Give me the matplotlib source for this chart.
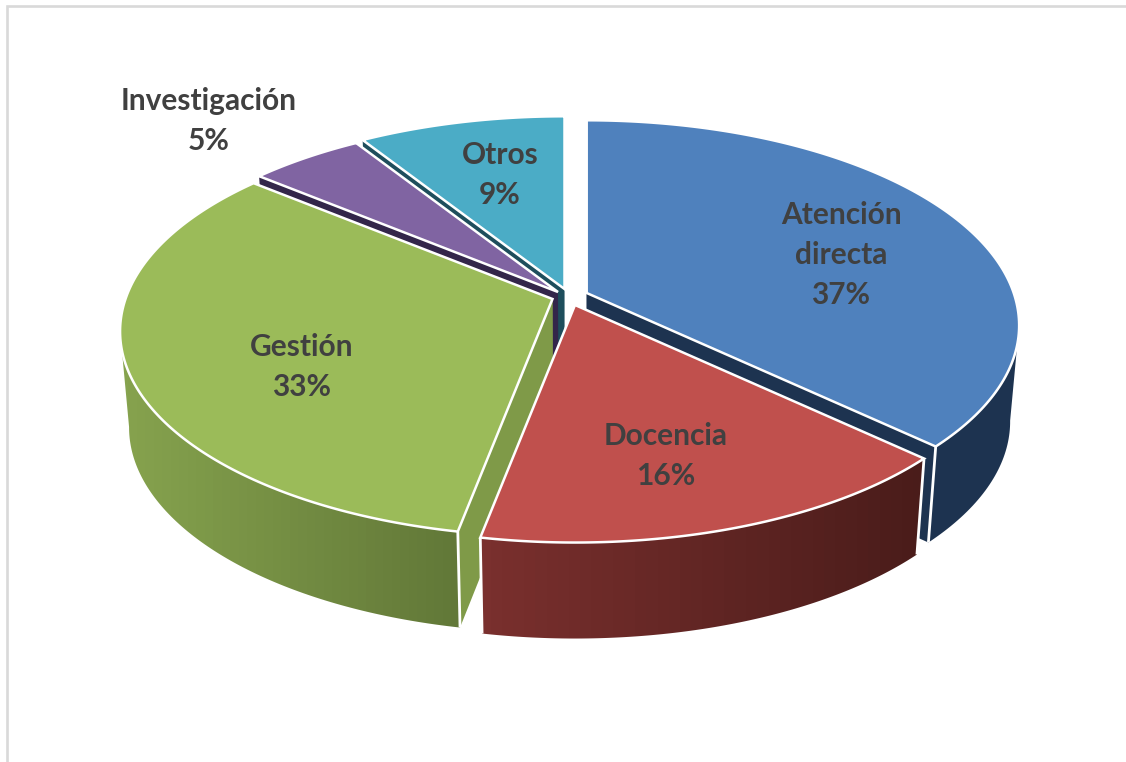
"""Exploded 3D-looking pie of time shares, drawn as projected polygons."""
import numpy as np
import matplotlib
matplotlib.use("Agg")
import matplotlib.pyplot as plt
from matplotlib.colors import LinearSegmentedColormap
from matplotlib.patches import Polygon

categories = ["Atención\ndirecta", "Docencia", "Gestión", "Investigación", "Otros"]
shares = [37, 16, 33, 5, 9]

top_colors = ["#4F81BD", "#C0504D", "#9BBB59", "#8064A2", "#4BACC6"]
wall_colors = ["#1D3350", "#792E2D", "#7F9A48", "#33264A", "#1E4E5C"]
side_left = ["#1D3350", "#7A302E", "#86A34E", "#4A3A66", "#2A6474"]
side_right = ["#1D3350", "#4A1C1A", "#627838", "#33264A", "#1E4E5C"]

# where each slice's tip sits after the explosion, in pixels
tips = [(586.7, 293), (575, 305), (552.5, 299), (558, 292), (564.5, 289)]
label_pos = [(841, 255), (666, 456), (302, 367), (209, 121), (500, 175)]

RX, RY, PERSP = 427, 200, 0.158
DEPTH, SHRINK, MID_X = 96, 0.98, 570
TEXT = "#404040"


def on_top(tip, theta, r=1.0):
    d = 1 + PERSP * r * np.cos(theta)
    return tip[0] + RX * r * np.sin(theta) / d, tip[1] - RY * r * np.cos(theta) / d


def below(p):
    return MID_X + (p[0] - MID_X) * SHRINK, p[1] + DEPTH


def draw_slice(ax, i, start, end):
    tip = tips[i]
    thetas = np.linspace(start, end, 160)
    rim = [on_top(tip, t) for t in thetas]

    # cut faces
    for t in (start, end):
        p = on_top(tip, t)
        ax.add_patch(Polygon([tip, p, below(p), below(tip)], closed=True,
                             fc=wall_colors[i], ec="none", zorder=1))

    # outer wall with a left to right gradient, only the part below the widest point
    rim_x = [p[0] for p in rim]
    k1 = int(np.argmax(rim_x)) if start < np.pi else 0
    k2 = int(np.argmin(rim_x)) + 1 if end > np.pi else len(rim)
    front = rim[k1:k2]
    if len(front) > 1:
        wall = front + [below(p) for p in front[::-1]]
        xs = [p[0] for p in wall]
        ys = [p[1] for p in wall]
        cmap = LinearSegmentedColormap.from_list("side", [side_left[i], side_right[i]])
        im = ax.imshow(np.linspace(0, 1, 40).reshape(1, -1), cmap=cmap, aspect="auto",
                       extent=(min(xs), max(xs), max(ys), min(ys)),
                       interpolation="nearest", zorder=1)
        im.set_clip_path(Polygon(wall, closed=True, transform=ax.transData))

    # white seams on the wall ends that face the viewer
    for t in (start, end):
        if np.cos(t) < 0:
            p = on_top(tip, t)
            q = below(p)
            ax.plot([p[0], q[0]], [p[1], q[1]], color="white", lw=2, zorder=1,
                    solid_capstyle="butt")

    ax.add_patch(Polygon([tip] + rim, closed=True, fc=top_colors[i], ec="white",
                         lw=1.8, joinstyle="miter", zorder=1))


fig = plt.figure(figsize=(11.26, 7.62), dpi=100, facecolor="white")
ax = fig.add_axes([0, 0, 1, 1])

# frame, only top and left are inside the crop
ax.plot([7, 7, 1126], [762, 6, 6], color="#D9D9D9", lw=1.9, solid_joinstyle="miter")

edges = np.cumsum([0] + shares) / sum(shares) * 2 * np.pi

# back to front so nearer slices cover the farther ones
for i in [4, 3, 0, 2, 1]:
    draw_slice(ax, i, edges[i], edges[i + 1])

ax.set_xlim(0, 1126)
ax.set_ylim(762, 0)
ax.axis("off")

for name, val, (x, y) in zip(categories, shares, label_pos):
    ax.text(x, y, f"{name}\n{val}%", ha="center", va="center", color=TEXT,
            family=["Lato", "DejaVu Sans"], fontweight="bold", fontsize=21.5,
            linespacing=1.5, zorder=5)

fig.savefig("out.png", dpi=100)
